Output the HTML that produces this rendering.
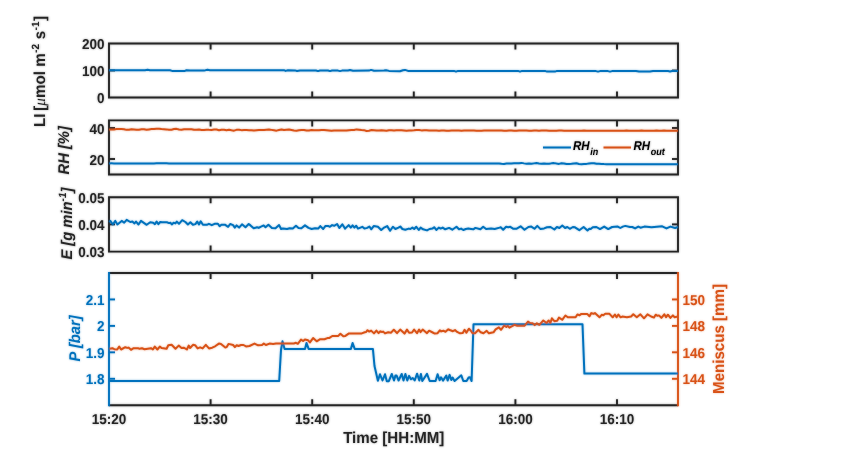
<!DOCTYPE html><html><head><meta charset="utf-8"><style>html,body{margin:0;padding:0;background:#fff;width:841px;height:466px;overflow:hidden}svg{display:block;will-change:transform}text{font-family:"Liberation Sans",sans-serif;font-weight:bold;text-rendering:geometricPrecision}</style></head><body>
<svg width="841" height="466" viewBox="0 0 841 466">
<rect width="841" height="466" fill="#fff"/>
<defs><filter id="bl" filterUnits="userSpaceOnUse" x="0" y="0" width="841" height="466"><feGaussianBlur stdDeviation="0.8"/></filter></defs><g id="all">
<path d="M109.0,43.5 H678.0 V97.5 H109.0 Z" fill="none" stroke="#262626" stroke-width="1.9"/>
<path d="M210.6,43.5 v6 M210.6,97.5 v-6" stroke="#262626" stroke-width="1.9"/>
<path d="M312.2,43.5 v6 M312.2,97.5 v-6" stroke="#262626" stroke-width="1.9"/>
<path d="M413.8,43.5 v6 M413.8,97.5 v-6" stroke="#262626" stroke-width="1.9"/>
<path d="M515.4,43.5 v6 M515.4,97.5 v-6" stroke="#262626" stroke-width="1.9"/>
<path d="M617.0,43.5 v6 M617.0,97.5 v-6" stroke="#262626" stroke-width="1.9"/>
<path d="M109.0,120.4 H678.0 V174.5 H109.0 Z" fill="none" stroke="#262626" stroke-width="1.9"/>
<path d="M210.6,120.4 v6 M210.6,174.5 v-6" stroke="#262626" stroke-width="1.9"/>
<path d="M312.2,120.4 v6 M312.2,174.5 v-6" stroke="#262626" stroke-width="1.9"/>
<path d="M413.8,120.4 v6 M413.8,174.5 v-6" stroke="#262626" stroke-width="1.9"/>
<path d="M515.4,120.4 v6 M515.4,174.5 v-6" stroke="#262626" stroke-width="1.9"/>
<path d="M617.0,120.4 v6 M617.0,174.5 v-6" stroke="#262626" stroke-width="1.9"/>
<path d="M109.0,197.2 H678.0 V251.6 H109.0 Z" fill="none" stroke="#262626" stroke-width="1.9"/>
<path d="M210.6,197.2 v6 M210.6,251.6 v-6" stroke="#262626" stroke-width="1.9"/>
<path d="M312.2,197.2 v6 M312.2,251.6 v-6" stroke="#262626" stroke-width="1.9"/>
<path d="M413.8,197.2 v6 M413.8,251.6 v-6" stroke="#262626" stroke-width="1.9"/>
<path d="M515.4,197.2 v6 M515.4,251.6 v-6" stroke="#262626" stroke-width="1.9"/>
<path d="M617.0,197.2 v6 M617.0,251.6 v-6" stroke="#262626" stroke-width="1.9"/>
<path d="M109.0,273.0 H678.0 M109.0,405.2 H678.0" fill="none" stroke="#262626" stroke-width="1.9"/>
<path d="M210.6,273.0 v6 M210.6,405.2 v-6" stroke="#262626" stroke-width="1.9"/>
<path d="M312.2,273.0 v6 M312.2,405.2 v-6" stroke="#262626" stroke-width="1.9"/>
<path d="M413.8,273.0 v6 M413.8,405.2 v-6" stroke="#262626" stroke-width="1.9"/>
<path d="M515.4,273.0 v6 M515.4,405.2 v-6" stroke="#262626" stroke-width="1.9"/>
<path d="M617.0,273.0 v6 M617.0,405.2 v-6" stroke="#262626" stroke-width="1.9"/>
<path d="M109.0,272.05 V406.15" stroke="#0072BD" stroke-width="1.9"/>
<path d="M678.0,272.05 V406.15" stroke="#D95319" stroke-width="1.9"/>
<path d="M109.0,70.5 h6" stroke="#262626" stroke-width="1.9"/>
<path d="M678.0,70.5 h-6" stroke="#262626" stroke-width="1.9"/>
<path d="M109.0,128.0 h6" stroke="#262626" stroke-width="1.9"/>
<path d="M678.0,128.0 h-6" stroke="#262626" stroke-width="1.9"/>
<path d="M109.0,159.0 h6" stroke="#262626" stroke-width="1.9"/>
<path d="M678.0,159.0 h-6" stroke="#262626" stroke-width="1.9"/>
<path d="M109.0,224.4 h6" stroke="#262626" stroke-width="1.9"/>
<path d="M678.0,224.4 h-6" stroke="#262626" stroke-width="1.9"/>
<path d="M109.0,299.44 h6" stroke="#0072BD" stroke-width="1.9"/>
<path d="M678.0,299.44 h-6" stroke="#D95319" stroke-width="1.9"/>
<path d="M109.0,325.9 h6" stroke="#0072BD" stroke-width="1.9"/>
<path d="M678.0,325.9 h-6" stroke="#D95319" stroke-width="1.9"/>
<path d="M109.0,352.3 h6" stroke="#0072BD" stroke-width="1.9"/>
<path d="M678.0,352.3 h-6" stroke="#D95319" stroke-width="1.9"/>
<path d="M109.0,378.8 h6" stroke="#0072BD" stroke-width="1.9"/>
<path d="M678.0,378.8 h-6" stroke="#D95319" stroke-width="1.9"/>
<path d="M109.0,70.2 L145.0,70.2 L147.6,69.8 L150.0,70.3 L170.0,70.3 L172.0,70.9 L185.0,70.9 L186.5,70.2 L190.0,70.6 L204.0,70.6 L207.5,69.8 L210.0,70.2 L284.0,70.2 L285.5,70.9 L288.0,70.2 L295.0,70.4 L297.0,71.0 L300.0,70.4 L316.0,70.5 L318.0,71.1 L320.0,70.5 L328.0,70.5 L330.0,71.1 L332.0,70.5 L338.0,70.6 L340.0,71.1 L342.0,70.6 L348.0,70.5 L350.0,70.1 L353.0,70.7 L369.0,70.6 L371.0,69.9 L374.0,70.7 L384.0,70.6 L386.0,70.2 L389.0,70.9 L400.0,71.2 L403.0,70.2 L405.0,69.9 L408.0,70.9 L454.0,70.9 L456.0,71.6 L458.0,70.9 L518.0,70.9 L520.0,71.6 L522.0,70.9 L545.0,70.9 L547.0,71.6 L555.0,71.6 L557.0,70.9 L596.0,71.1 L598.0,71.6 L600.0,71.1 L608.0,71.1 L610.0,71.6 L612.0,71.1 L636.0,71.1 L639.0,71.6 L650.0,71.6 L653.0,71.1 L668.0,71.1 L670.0,71.4 L672.0,71.0 L678.0,70.9" fill="none" stroke="#0072BD" stroke-width="2" stroke-linejoin="round"/>
<path d="M109.0,129.40 L111.5,129.49 L114.0,129.43 L116.5,129.11 L119.0,129.08 L121.5,129.06 L124.0,129.21 L126.5,129.86 L129.0,129.72 L131.5,129.20 L134.0,129.47 L136.5,129.75 L139.0,129.66 L141.5,129.32 L144.0,129.29 L146.5,129.75 L149.0,129.40 L151.5,129.10 L154.0,128.96 L156.5,128.74 L159.0,128.77 L161.5,129.07 L164.0,129.24 L166.5,129.38 L169.0,129.78 L171.5,129.67 L174.0,128.96 L176.5,128.87 L179.0,129.55 L181.5,129.74 L184.0,129.35 L186.5,129.20 L189.0,129.36 L191.5,129.28 L194.0,129.84 L196.5,129.85 L199.0,129.57 L201.5,130.03 L204.0,129.90 L206.5,129.64 L209.0,129.84 L211.5,129.89 L214.0,129.55 L216.5,129.56 L219.0,130.26 L221.5,129.84 L224.0,129.71 L226.5,130.17 L229.0,129.78 L231.5,130.29 L234.0,130.67 L236.5,129.83 L239.0,129.66 L241.5,130.14 L244.0,130.08 L246.5,130.12 L249.0,130.16 L251.5,130.16 L254.0,130.57 L256.5,130.23 L259.0,129.91 L261.5,129.98 L264.0,129.97 L266.5,129.79 L269.0,129.61 L271.5,129.88 L274.0,130.28 L276.5,130.64 L279.0,130.07 L281.5,129.57 L284.0,130.10 L286.5,129.80 L289.0,129.52 L291.5,130.02 L294.0,130.48 L296.5,130.69 L299.0,130.29 L301.5,130.02 L304.0,130.05 L306.5,130.54 L309.0,130.50 L311.5,130.04 L314.0,130.25 L316.5,130.30 L319.0,130.17 L321.5,129.92 L324.0,129.97 L326.5,130.15 L329.0,130.46 L331.5,130.74 L334.0,130.45 L336.5,130.46 L339.0,130.38 L341.5,130.49 L344.0,130.58 L346.5,130.46 L349.0,130.14 L351.5,130.09 L354.0,129.99 L356.5,129.40 L359.0,129.75 L361.5,130.05 L364.0,130.17 L366.5,130.98 L369.0,130.73 L371.5,130.01 L374.0,130.28 L376.5,130.57 L379.0,130.48 L381.5,130.31 L384.0,130.53 L386.5,130.72 L389.0,130.29 L391.5,130.15 L394.0,130.42 L396.5,130.19 L399.0,130.25 L401.5,130.31 L404.0,130.49 L406.5,130.73 L409.0,130.54 L411.5,130.38 L414.0,130.35 L416.5,130.09 L419.0,129.93 L421.5,130.38 L424.0,130.23 L426.5,130.33 L429.0,130.40 L431.5,130.41 L434.0,130.54 L436.5,130.55 L439.0,130.67 L441.5,130.43 L444.0,130.55 L446.5,130.82 L449.0,130.71 L451.5,130.58 L454.0,130.57 L456.5,130.52 L459.0,130.61 L461.5,130.65 L464.0,130.56 L466.5,130.55 L469.0,130.51 L471.5,130.48 L474.0,130.61 L476.5,130.69 L479.0,130.67 L481.5,130.68 L484.0,130.57 L486.5,130.55 L489.0,130.56 L491.5,130.58 L494.0,130.60 L496.5,130.58 L499.0,130.51 L501.5,130.48 L504.0,130.68 L506.5,130.69 L509.0,130.52 L511.5,130.58 L514.0,130.73 L516.5,130.63 L519.0,130.53 L521.5,130.58 L524.0,130.49 L526.5,130.57 L529.0,130.68 L531.5,130.64 L534.0,130.60 L536.5,130.62 L539.0,130.63 L541.5,130.60 L544.0,130.57 L546.5,130.52 L549.0,130.65 L551.5,130.69 L554.0,130.63 L556.5,130.66 L559.0,130.62 L561.5,130.60 L564.0,130.66 L566.5,130.67 L569.0,130.63 L571.5,130.65 L574.0,130.71 L576.5,130.74 L579.0,130.71 L581.5,130.65 L584.0,130.57 L586.5,130.64 L589.0,130.75 L591.5,130.70 L594.0,130.68 L596.5,130.72 L599.0,130.73 L601.5,130.74 L604.0,130.69 L606.5,130.71 L609.0,130.68 L611.5,130.66 L614.0,130.72 L616.5,130.73 L619.0,130.78 L621.5,130.80 L624.0,130.69 L626.5,130.57 L629.0,130.65 L631.5,130.67 L634.0,130.65 L636.5,130.71 L639.0,130.66 L641.5,130.56 L644.0,130.63 L646.5,130.70 L649.0,130.68 L651.5,130.68 L654.0,130.66 L656.5,130.62 L659.0,130.64 L661.5,130.66 L664.0,130.62 L666.5,130.66 L669.0,130.71 L671.5,130.71 L674.0,130.68 L678.0,130.66" fill="none" stroke="#D95319" stroke-width="2" stroke-linejoin="round"/>
<path d="M109.0,163.39 L111.5,163.37 L114.0,163.39 L116.5,163.39 L119.0,163.39 L121.5,163.41 L124.0,163.44 L126.5,163.41 L129.0,163.39 L131.5,163.41 L134.0,163.40 L136.5,163.38 L139.0,163.38 L141.5,163.41 L144.0,163.41 L146.5,163.40 L149.0,163.40 L151.5,163.42 L154.0,163.42 L156.5,163.37 L159.0,163.36 L161.5,163.37 L164.0,163.33 L166.5,163.35 L169.0,163.42 L171.5,163.43 L174.0,163.39 L176.5,163.38 L179.0,163.41 L181.5,163.43 L184.0,163.41 L186.5,163.41 L189.0,163.41 L191.5,163.42 L194.0,163.43 L196.5,163.42 L199.0,163.40 L201.5,163.40 L204.0,163.41 L206.5,163.42 L209.0,163.41 L211.5,163.39 L214.0,163.41 L216.5,163.39 L219.0,163.42 L221.5,163.46 L224.0,163.43 L226.5,163.42 L229.0,163.43 L231.5,163.38 L234.0,163.38 L236.5,163.42 L239.0,163.42 L241.5,163.40 L244.0,163.40 L246.5,163.41 L249.0,163.43 L251.5,163.44 L254.0,163.42 L256.5,163.44 L259.0,163.43 L261.5,163.41 L264.0,163.39 L266.5,163.42 L269.0,163.46 L271.5,163.45 L274.0,163.44 L276.5,163.43 L279.0,163.43 L281.5,163.42 L284.0,163.42 L286.5,163.42 L289.0,163.45 L291.5,163.45 L294.0,163.43 L296.5,163.41 L299.0,163.41 L301.5,163.44 L304.0,163.46 L306.5,163.43 L309.0,163.42 L311.5,163.40 L314.0,163.41 L316.5,163.44 L319.0,163.43 L321.5,163.42 L324.0,163.42 L326.5,163.43 L329.0,163.41 L331.5,163.40 L334.0,163.41 L336.5,163.43 L339.0,163.43 L341.5,163.43 L344.0,163.46 L346.5,163.45 L349.0,163.42 L351.5,163.42 L354.0,163.43 L356.5,163.42 L359.0,163.42 L361.5,163.47 L364.0,163.46 L366.5,163.43 L369.0,163.41 L371.5,163.42 L374.0,163.42 L376.5,163.40 L379.0,163.44 L381.5,163.44 L384.0,163.44 L386.5,163.47 L389.0,163.46 L391.5,163.45 L394.0,163.47 L396.5,163.46 L399.0,163.43 L401.5,163.41 L404.0,163.42 L406.5,163.46 L409.0,163.47 L411.5,163.44 L414.0,163.41 L416.5,163.42 L419.0,163.44 L421.5,163.44 L424.0,163.44 L426.5,163.45 L429.0,163.44 L431.5,163.44 L434.0,163.44 L436.5,163.44 L439.0,163.45 L441.5,163.48 L444.0,163.48 L446.5,163.45 L449.0,163.42 L451.5,163.42 L454.0,163.42 L456.5,163.39 L459.0,163.44 L461.5,163.47 L464.0,163.45 L466.5,163.42 L469.0,163.41 L471.5,163.43 L474.0,163.45 L476.5,163.49 L479.0,163.48 L481.5,163.44 L484.0,163.42 L486.5,163.43 L489.0,163.45 L491.5,163.43 L494.0,163.43 L496.5,163.40 L499.0,163.45 L501.5,163.78 L504.0,163.90 L506.5,163.60 L509.0,163.48 L511.5,163.57 L514.0,163.37 L516.5,163.33 L519.0,163.13 L521.5,162.89 L524.0,163.37 L526.5,163.65 L529.0,163.53 L531.5,163.80 L534.0,163.37 L536.5,162.98 L539.0,163.41 L541.5,163.68 L544.0,163.57 L546.5,163.72 L549.0,163.85 L551.5,163.36 L554.0,163.11 L556.5,163.57 L559.0,163.89 L561.5,163.28 L564.0,163.49 L566.5,164.06 L569.0,164.06 L571.5,163.85 L574.0,163.49 L576.5,163.33 L579.0,163.97 L581.5,164.19 L584.0,163.98 L586.5,163.88 L589.0,163.57 L591.5,163.34 L594.0,163.23 L596.5,163.83 L599.0,163.71 L601.5,163.88 L604.0,164.06 L606.5,164.14 L609.0,164.13 L611.5,164.15 L614.0,164.16 L616.5,164.16 L619.0,164.16 L621.5,164.17 L624.0,164.17 L626.5,164.16 L629.0,164.18 L631.5,164.22 L634.0,164.20 L636.5,164.19 L639.0,164.21 L641.5,164.20 L644.0,164.23 L646.5,164.24 L649.0,164.25 L651.5,164.26 L654.0,164.24 L656.5,164.26 L659.0,164.25 L661.5,164.26 L664.0,164.28 L666.5,164.28 L669.0,164.29 L671.5,164.27 L674.0,164.27 L678.0,164.30" fill="none" stroke="#0072BD" stroke-width="2" stroke-linejoin="round"/>
<path d="M109.2,222.0 L110.3,220.9 L112.8,224.5 L115.3,220.9 L117.4,224.5 L121.7,220.9 L124.2,222.7 L126.7,219.8 L130.3,222.0 L132.4,221.6 L134.5,223.4 L136.0,221.6 L138.5,224.5 L141.0,220.9 L146.7,224.8 L150.2,222.3 L153.1,222.7 L154.9,224.1 L156.6,221.6 L158.4,224.1 L160.2,222.0 L162.3,222.3 L166.9,222.3 L169.0,223.1 L170.4,222.7 L171.8,224.5 L173.6,222.7 L175.4,223.4 L176.8,221.6 L179.0,223.8 L182.2,220.2 L185.4,222.0 L187.9,224.5 L190.4,222.3 L192.9,224.8 L195.4,224.1 L197.2,221.6 L199.0,224.5 L200.7,221.3 L202.9,224.8 L206.8,224.8 L208.9,223.8 L211.8,225.2 L214.6,223.8 L217.9,223.8 L219.6,226.3 L221.4,224.8 L224.9,224.7 L228.1,226.8 L230.2,224.0 L233.1,225.1 L234.8,227.6 L236.6,225.4 L239.1,227.6 L242.0,224.3 L245.5,227.2 L248.7,224.0 L250.5,225.4 L253.7,228.3 L257.0,227.2 L258.7,227.9 L260.5,226.8 L263.7,225.4 L265.5,227.2 L268.4,224.7 L271.9,227.9 L275.5,228.3 L279.1,225.1 L281.1,229.0 L282.9,228.6 L287.1,229.0 L289.6,228.3 L292.8,228.6 L296.0,225.8 L298.5,227.9 L301.4,228.3 L305.0,225.4 L308.5,227.9 L311.7,229.0 L315.0,228.3 L318.2,228.6 L320.3,226.1 L323.2,229.0 L325.3,226.1 L328.5,226.1 L329.9,226.8 L332.1,225.1 L334.2,225.8 L337.1,224.0 L339.4,227.9 L342.3,224.3 L345.1,228.6 L348.7,225.1 L350.8,227.6 L352.6,225.4 L354.4,227.6 L356.2,225.8 L358.0,228.6 L362.3,226.8 L364.4,228.6 L367.2,227.9 L369.4,226.5 L371.2,229.3 L373.7,226.1 L377.9,226.8 L381.2,230.0 L383.6,227.9 L387.2,226.1 L390.1,230.8 L392.9,226.8 L395.4,229.0 L398.5,227.6 L400.3,226.5 L402.4,229.0 L405.3,229.7 L408.8,228.6 L410.3,229.0 L412.4,227.6 L414.2,229.0 L416.3,226.8 L418.8,230.0 L420.6,227.6 L423.1,229.3 L427.0,230.4 L429.5,229.0 L432.4,228.6 L434.2,227.2 L436.3,230.0 L438.8,227.6 L440.6,228.6 L442.7,227.6 L445.2,229.3 L449.1,227.9 L452.3,229.7 L456.5,226.8 L459.0,229.3 L461.1,228.6 L463.3,230.0 L465.8,229.0 L468.3,228.6 L471.1,229.0 L473.3,229.3 L475.4,227.9 L480.4,229.3 L483.2,226.8 L486.1,229.0 L491.1,228.6 L494.7,229.0 L499.6,227.6 L500.7,227.2 L503.2,229.7 L506.1,226.8 L508.2,227.2 L510.3,226.8 L513.4,228.8 L516.3,228.8 L520.6,226.3 L524.5,229.8 L528.4,227.0 L531.3,226.6 L534.5,228.8 L537.3,225.9 L540.5,229.1 L544.1,228.4 L547.0,227.3 L550.5,227.0 L554.4,229.5 L556.9,227.0 L559.4,228.0 L562.3,225.6 L565.1,228.0 L567.3,227.0 L569.8,228.8 L572.9,227.0 L575.0,227.3 L579.3,230.2 L583.6,227.0 L587.5,230.5 L589.3,228.8 L590.7,229.1 L592.8,227.3 L596.4,227.0 L600.0,229.1 L604.2,226.6 L608.2,229.1 L612.1,227.0 L617.8,226.6 L620.3,228.0 L622.8,226.6 L625.3,225.9 L629.9,227.0 L632.3,227.0 L635.1,228.4 L638.3,226.6 L640.5,227.7 L644.4,226.6 L651.5,227.3 L662.2,226.3 L666.5,228.4 L670.4,226.6 L675.1,228.0 L678.0,227.0" fill="none" stroke="#0072BD" stroke-width="2" stroke-linejoin="round"/>
<path d="M109.0,381.0 L279.2,381.0 L281.0,350.0 L282.5,341.2 L284.6,348.9 L305.0,348.9 L306.5,342.9 L308.6,348.9 L350.9,348.9 L352.6,343.0 L354.7,348.9 L372.9,348.9 L374.5,366.0 L377.9,380.8 L380.0,374.3 L382.5,380.5 L385.0,374.3 L386.8,381.2 L388.8,381.2 L391.8,374.0 L394.0,380.5 L395.5,375.4 L396.5,375.4 L398.6,380.5 L401.7,374.0 L403.5,380.5 L405.4,374.0 L407.3,380.5 L409.1,375.9 L411.0,379.3 L412.8,378.0 L414.7,380.5 L417.1,373.7 L419.3,380.5 L420.9,374.0 L422.3,381.0 L427.0,373.9 L429.7,381.0 L435.6,381.0 L437.6,374.3 L439.6,380.3 L441.0,377.3 L443.0,380.6 L446.3,375.6 L447.6,380.6 L449.6,374.9 L451.3,380.0 L452.6,377.6 L454.6,381.0 L461.3,375.3 L463.3,381.0 L466.6,381.0 L468.6,377.6 L470.0,377.3 L471.6,381.0 L473.5,324.3 L582.5,324.3 L584.4,373.6 L678.0,373.6" fill="none" stroke="#0072BD" stroke-width="2" stroke-linejoin="round"/>
<path d="M109.5,348.8 L112.4,348.2 L114.3,349.2 L117.2,349.5 L119.2,346.6 L121.1,349.5 L125.3,347.2 L127.2,347.9 L128.5,347.6 L131.0,349.8 L133.6,348.2 L138.1,348.2 L139.4,348.8 L142.0,348.2 L144.5,349.2 L151.0,348.2 L152.9,349.5 L154.8,346.6 L157.4,349.5 L159.8,346.6 L161.6,348.0 L166.6,348.8 L168.3,345.2 L171.6,344.8 L175.5,348.8 L178.7,345.6 L181.5,348.0 L183.7,347.7 L186.9,349.5 L188.7,345.6 L190.1,348.0 L193.0,344.8 L195.1,345.2 L197.6,348.4 L200.1,347.3 L202.6,348.4 L205.8,344.8 L209.0,348.4 L212.2,347.7 L215.1,346.3 L218.9,343.6 L221.0,343.9 L225.3,347.5 L226.7,347.1 L228.5,343.9 L233.1,345.0 L234.9,347.1 L236.7,345.3 L238.5,346.0 L241.0,345.0 L243.5,345.0 L246.0,346.4 L249.5,346.0 L254.5,343.6 L258.1,345.3 L262.0,345.0 L263.8,343.6 L265.9,345.0 L269.5,343.6 L273.1,343.9 L276.0,343.5 L293.8,343.5 L296.0,342.8 L297.8,343.8 L301.0,339.6 L303.1,341.0 L304.9,339.6 L308.1,340.3 L309.9,342.4 L313.1,338.1 L316.7,341.3 L320.2,339.2 L324.5,339.2 L327.4,338.1 L329.1,338.1 L332.3,336.0 L338.3,335.9 L340.4,333.8 L343.3,336.3 L345.4,335.9 L349.0,333.4 L361.8,333.4 L364.7,332.3 L366.1,332.0 L367.5,330.2 L369.3,331.6 L371.1,330.6 L374.0,333.4 L376.4,330.6 L378.6,333.1 L380.4,331.3 L382.1,332.0 L383.2,331.6 L385.0,333.4 L388.2,332.3 L391.1,332.7 L393.6,329.8 L394.1,330.0 L397.0,333.2 L400.2,329.6 L404.5,333.6 L407.0,329.6 L409.1,332.8 L412.0,332.5 L414.1,329.6 L417.0,333.2 L419.1,329.6 L420.5,332.1 L422.7,329.6 L427.0,333.2 L429.1,330.7 L432.7,332.5 L434.8,333.6 L437.6,333.2 L439.8,330.3 L441.2,331.4 L443.4,330.7 L445.5,331.8 L448.3,329.3 L449.8,330.0 L452.9,331.2 L455.0,330.1 L457.1,331.9 L460.0,333.3 L462.8,333.0 L464.6,329.8 L466.4,332.6 L468.9,328.7 L470.7,330.5 L472.5,333.3 L475.0,333.3 L478.5,329.8 L480.7,332.3 L483.5,333.3 L486.7,330.8 L488.9,333.3 L493.5,332.3 L495.6,329.4 L498.9,327.3 L501.0,329.8 L504.2,325.5 L506.3,326.9 L507.8,325.8 L509.4,327.6 L514.4,324.8 L517.3,325.8 L524.4,325.8 L528.0,321.6 L530.1,323.0 L532.6,323.3 L534.7,325.1 L536.9,323.3 L539.4,324.8 L543.3,320.5 L546.5,323.0 L548.7,320.5 L550.4,323.0 L551.9,318.3 L554.4,321.2 L557.2,320.8 L559.0,317.6 L562.2,319.8 L565.4,315.5 L567.8,317.3 L575.6,317.3 L577.4,314.5 L579.6,315.2 L581.0,314.1 L587.4,314.1 L589.5,316.3 L591.3,313.1 L593.5,313.8 L594.9,313.1 L599.5,317.3 L601.7,314.8 L603.4,315.2 L605.2,313.8 L609.5,313.8 L612.7,317.3 L614.9,314.5 L616.6,317.3 L618.4,314.5 L620.6,317.3 L622.3,316.6 L626.9,317.2 L631.1,316.5 L633.3,314.3 L636.8,317.2 L640.4,314.3 L644.0,318.3 L647.5,314.3 L651.1,316.5 L654.0,317.6 L655.7,314.7 L657.5,315.8 L659.0,315.4 L661.4,317.9 L664.3,314.3 L666.1,317.2 L667.9,314.7 L670.4,317.9 L672.9,315.4 L674.6,317.2 L678.0,316.5" fill="none" stroke="#D95319" stroke-width="2" stroke-linejoin="round"/>
<text transform="translate(104.5,49.0) scale(1,1.06)" font-size="13.5" fill="#262626" text-anchor="end">200</text>
<text transform="translate(104.5,76.0) scale(1,1.06)" font-size="13.5" fill="#262626" text-anchor="end">100</text>
<text transform="translate(104.5,103.0) scale(1,1.06)" font-size="13.5" fill="#262626" text-anchor="end">0</text>
<text transform="translate(104.5,133.5) scale(1,1.06)" font-size="13.5" fill="#262626" text-anchor="end">40</text>
<text transform="translate(104.5,164.5) scale(1,1.06)" font-size="13.5" fill="#262626" text-anchor="end">20</text>
<text transform="translate(104.5,202.7) scale(1,1.06)" font-size="13.5" fill="#262626" text-anchor="end">0.05</text>
<text transform="translate(104.5,229.9) scale(1,1.06)" font-size="13.5" fill="#262626" text-anchor="end">0.04</text>
<text transform="translate(104.5,257.1) scale(1,1.06)" font-size="13.5" fill="#262626" text-anchor="end">0.03</text>
<text transform="translate(104.5,304.94) scale(1,1.06)" font-size="13.5" fill="#0072BD" text-anchor="end">2.1</text>
<text transform="translate(104.5,331.4) scale(1,1.06)" font-size="13.5" fill="#0072BD" text-anchor="end">2</text>
<text transform="translate(104.5,357.8) scale(1,1.06)" font-size="13.5" fill="#0072BD" text-anchor="end">1.9</text>
<text transform="translate(104.5,384.3) scale(1,1.06)" font-size="13.5" fill="#0072BD" text-anchor="end">1.8</text>
<text transform="translate(682.5,304.94) scale(1,1.06)" font-size="13.5" fill="#D95319" text-anchor="start">150</text>
<text transform="translate(682.5,331.4) scale(1,1.06)" font-size="13.5" fill="#D95319" text-anchor="start">148</text>
<text transform="translate(682.5,357.8) scale(1,1.06)" font-size="13.5" fill="#D95319" text-anchor="start">146</text>
<text transform="translate(682.5,384.3) scale(1,1.06)" font-size="13.5" fill="#D95319" text-anchor="start">144</text>
<text transform="translate(109.0,424) scale(1,1.06)" font-size="13.5" fill="#262626" text-anchor="middle">15:20</text>
<text transform="translate(210.6,424) scale(1,1.06)" font-size="13.5" fill="#262626" text-anchor="middle">15:30</text>
<text transform="translate(312.2,424) scale(1,1.06)" font-size="13.5" fill="#262626" text-anchor="middle">15:40</text>
<text transform="translate(413.8,424) scale(1,1.06)" font-size="13.5" fill="#262626" text-anchor="middle">15:50</text>
<text transform="translate(515.4,424) scale(1,1.06)" font-size="13.5" fill="#262626" text-anchor="middle">16:00</text>
<text transform="translate(617.0,424) scale(1,1.06)" font-size="13.5" fill="#262626" text-anchor="middle">16:10</text>
<text transform="translate(393.75,443) scale(1,1.05)" font-size="15.1" fill="#262626" text-anchor="middle">Time [HH:MM]</text>
<text transform="translate(723.6,339) rotate(-90) scale(1,1.05)" font-size="15.1" fill="#D95319" text-anchor="middle">Meniscus [mm]</text>
<text transform="translate(80,338.4) rotate(-90) scale(1,1.05)" font-size="14.75" fill="#0072BD" text-anchor="middle" font-style="italic">P [bar]</text>
<text transform="translate(69,150.3) rotate(-90) scale(1,1.05)" font-size="14.75" fill="#262626" text-anchor="middle" font-style="italic">RH [%]</text>
<text transform="translate(72.2,223.6) rotate(-90) scale(1,1.05)" font-size="14.75" fill="#262626" text-anchor="middle" font-style="italic">E [g min<tspan font-size="10" dy="-6.3">-1</tspan><tspan dy="6.3">]</tspan></text>
<text transform="translate(45,127.0) rotate(-90) scale(1,1.05)" font-size="15.1" fill="#262626" text-anchor="start">LI<tspan dx="-1.4"> [</tspan><tspan dx="0" font-family="Liberation Serif" font-style="italic" font-weight="normal">μ</tspan><tspan dx="0.3">mol m</tspan><tspan font-size="10" dy="-5.8" dx="0.5">-2</tspan><tspan dy="5.8" dx="0.5"> s</tspan><tspan font-size="10" dy="-5.8" dx="0.5">-1</tspan><tspan dy="5.8" dx="0.5">]</tspan></text>
<path d="M543,147.5 H571" stroke="#0072BD" stroke-width="2"/>
<text transform="translate(573,149.6) scale(1,1.1)" font-size="11.5" fill="#000" font-style="italic">RH<tspan font-size="9" dy="5" dx="0.6">in</tspan></text>
<path d="M603.5,147.5 H631" stroke="#D95319" stroke-width="2"/>
<text transform="translate(633.5,149.6) scale(1,1.1)" font-size="11.5" fill="#000" font-style="italic">RH<tspan font-size="9" dy="5" dx="0.6">out</tspan></text>
</g><use href="#all" filter="url(#bl)" opacity="0.4"/></svg></body></html>
